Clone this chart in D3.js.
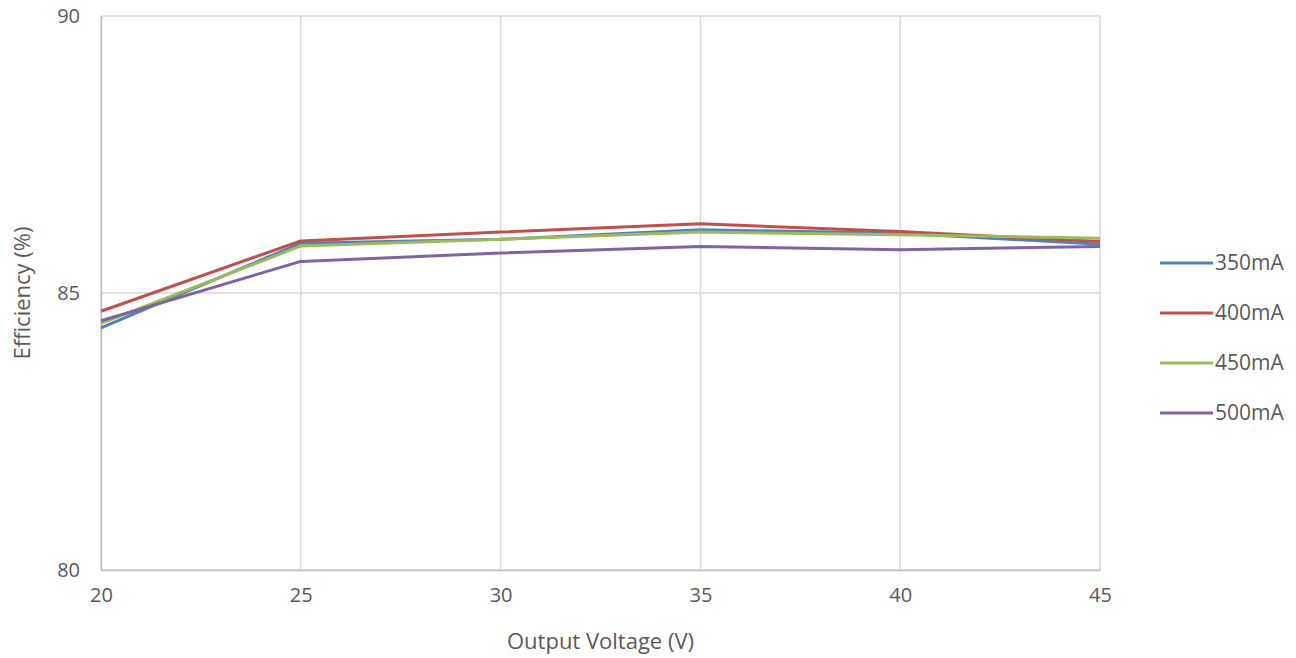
<!DOCTYPE html>
<html><head><meta charset="utf-8">
<script src="https://cdn.jsdelivr.net/npm/d3@7"></script>
<style>body{margin:0;background:#fff;}svg text{font-family:"Open Sans","Liberation Sans",sans-serif;fill:#595959;}</style>
</head><body><svg id="c" width="1296" height="658"></svg>
<script>
const voltages = [20, 25, 30, 35, 40, 45];
const seriesNames = ["350mA", "400mA", "450mA", "500mA"];
const s350 = [84.37, 85.90, 85.97, 86.14, 86.08, 85.88];
const s400 = [84.67, 85.94, 86.10, 86.25, 86.11, 85.93];
const s450 = [84.45, 85.85, 85.97, 86.10, 86.05, 85.99];
const s500 = [84.50, 85.57, 85.72, 85.84, 85.78, 85.84];
const colors = ["#4F81BD", "#C0504D", "#9BBB59", "#8064A2"];
const xTicks = [20, 25, 30, 35, 40, 45];
const yTicks = [80, 85, 90];

const svg = d3.select("#c");
const L = 101, R = 1100, T = 16, B = 570;
const x = d3.scaleLinear().domain([20, 45]).range([L, R]);
const y = d3.scaleLinear().domain([80, 90]).range([B, T]);

// grid
svg.append("g").selectAll("line").data(xTicks).join("line")
  .attr("x1", d => x(d)).attr("x2", d => x(d)).attr("y1", T).attr("y2", B)
  .attr("stroke", "#d9d9d9").attr("stroke-width", 1.5);
svg.append("g").selectAll("line").data(yTicks).join("line")
  .attr("x1", L).attr("x2", R).attr("y1", d => y(d)).attr("y2", d => y(d))
  .attr("stroke", "#d9d9d9").attr("stroke-width", 1.5);

// axes
const xa = svg.append("g").attr("transform", `translate(0,${B})`)
  .call(d3.axisBottom(x).tickValues(xTicks).tickSize(0).tickPadding(18));
const ya = svg.append("g").attr("transform", `translate(${L},0)`)
  .call(d3.axisLeft(y).tickValues(yTicks).tickSize(0).tickPadding(21));
[xa, ya].forEach(a => {
  a.select(".domain").attr("stroke", "#bfbfbf").attr("stroke-width", 1.5);
  a.selectAll("text").style("font-size", "20px").attr("fill", "#595959");
});

// lines
const all = [s350, s400, s450, s500];
const line = d3.line().x((d, i) => x(voltages[i])).y(d => y(d));
all.forEach((s, k) => {
  svg.append("path").datum(s).attr("d", line).attr("fill", "none")
    .attr("stroke", colors[k]).attr("stroke-width", 3).attr("stroke-linejoin", "round");
});

// legend
const lg = svg.append("g");
seriesNames.forEach((n, k) => {
  const yy = 263 + k * 50;
  lg.append("line").attr("x1", 1160).attr("x2", 1213).attr("y1", yy).attr("y2", yy)
    .attr("stroke", colors[k]).attr("stroke-width", 3);
  lg.append("text").attr("x", 1215).attr("y", yy).attr("dy", "0.35em")
    .style("font-size", "21px").text(n);
});

// titles
svg.append("text").attr("x", (L + R) / 2).attr("y", 649).attr("text-anchor", "middle")
  .style("font-size", "22px").text("Output Voltage (V)");
svg.append("text").attr("transform", `translate(30,${(T + B) / 2}) rotate(-90)`)
  .attr("text-anchor", "middle").style("font-size", "22px").text("Efficiency (%)");
</script></body></html>
